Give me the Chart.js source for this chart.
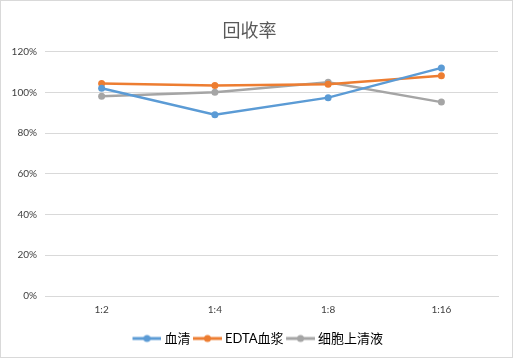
<!DOCTYPE html>
<html>
<head>
<meta charset="utf-8">
<script src="https://cdn.jsdelivr.net/npm/chart.js@4/dist/chart.umd.min.js"></script>
<style>
html,body{margin:0;padding:0;background:#fff;}
#wrap{position:absolute;left:0;top:0;width:513px;height:358px;border:1px solid #d9d9d9;box-sizing:border-box;background:#fff;}
canvas{display:block;}
</style>
</head>
<body>
<div id="wrap"><canvas id="c" width="511" height="356"></canvas></div>
<script>
const categories = ['1:2', '1:4', '1:8', '1:16'];
const seriesNames = ['血清', 'EDTA血浆', '细胞上清液'];
const serum = [1.02, 0.89, 0.974, 1.12];
const edtaPlasma = [1.043, 1.033, 1.04, 1.082];
const cellSupernatant = [0.981, 1.001, 1.05, 0.952];
const yTicks = [0, 0.2, 0.4, 0.6, 0.8, 1.0, 1.2];
const colors = ['#5b9bd5', '#ed7d31', '#a5a5a5'];

const FONT = "Lato, 'Noto Sans CJK SC', sans-serif";

function legendIcon(color){
  const c = document.createElement('canvas');
  c.width = 33; c.height = 12;
  const g = c.getContext('2d');
  g.strokeStyle = color; g.lineWidth = 3;
  g.beginPath(); g.moveTo(4,6); g.lineTo(33,6); g.stroke();
  g.fillStyle = color;
  g.beginPath(); g.arc(18.5,6,3.5,0,Math.PI*2); g.fill();
  return c;
}

const shiftLegend = {
  id: 'shiftLegend',
  afterLayout(chart) {
    if (chart.legend) { chart.legend.left += 8; chart.legend.right += 8; }
  }
};

const data = {
  labels: categories,
  datasets: [serum, edtaPlasma, cellSupernatant].map((vals, i) => ({
    label: seriesNames[i],
    data: vals,
    borderColor: colors[i],
    backgroundColor: colors[i],
    borderWidth: 2.5,
    pointRadius: 3.5,
    pointHoverRadius: 3.5,
    pointBorderWidth: 0,
    tension: 0,
    fill: false
  }))
};

new Chart(document.getElementById('c'), {
  type: 'line',
  data,
  plugins: [shiftLegend],
  options: {
    responsive: false,
    animation: false,
    devicePixelRatio: 1,
    layout: { padding: { left: 0, right: 14, top: 18, bottom: 2 } },
    plugins: {
      tooltip: { enabled: false },
      title: {
        display: true,
        text: '回收率',
        color: '#595959',
        font: { family: "'Noto Sans CJK SC', sans-serif", size: 18, weight: 'normal' },
        padding: { top: 0, bottom: 11 }
      },
      legend: {
        position: 'bottom',
        labels: {
          color: '#000',
          font: { family: FONT, size: 13 },
          usePointStyle: true,
          pointStyleWidth: 26,
          padding: 2,
          generateLabels: (chart) => chart.data.datasets.map((ds, i) => ({
            text: ds.label,
            fillStyle: colors[i],
            strokeStyle: colors[i],
            pointStyle: legendIcon(colors[i]),
            datasetIndex: i,
            hidden: false,
            lineWidth: 0
          }))
        }
      }
    },
    scales: {
      x: {
        offset: true,
        grid: { display: false, drawTicks: false },
        border: { display: true, color: '#d9d9d9', width: 1 },
        ticks: { color: '#404040', font: { family: FONT, size: 10 }, padding: 8 },
        afterFit: (axis) => { axis.height += 6; }
      },
      y: {
        min: 0, max: 1.2,
        afterBuildTicks: (axis) => { axis.ticks = yTicks.map(v => ({ value: v })); },
        afterFit: (axis) => { axis.width = 44; },
        grid: { color: '#d9d9d9', drawTicks: false },
        border: { display: false },
        ticks: {
          color: '#404040',
          font: { family: FONT, size: 10 },
          padding: 8,
          callback: (v) => Math.round(v * 100) + '%'
        }
      }
    }
  }
});
</script>
</body>
</html>
